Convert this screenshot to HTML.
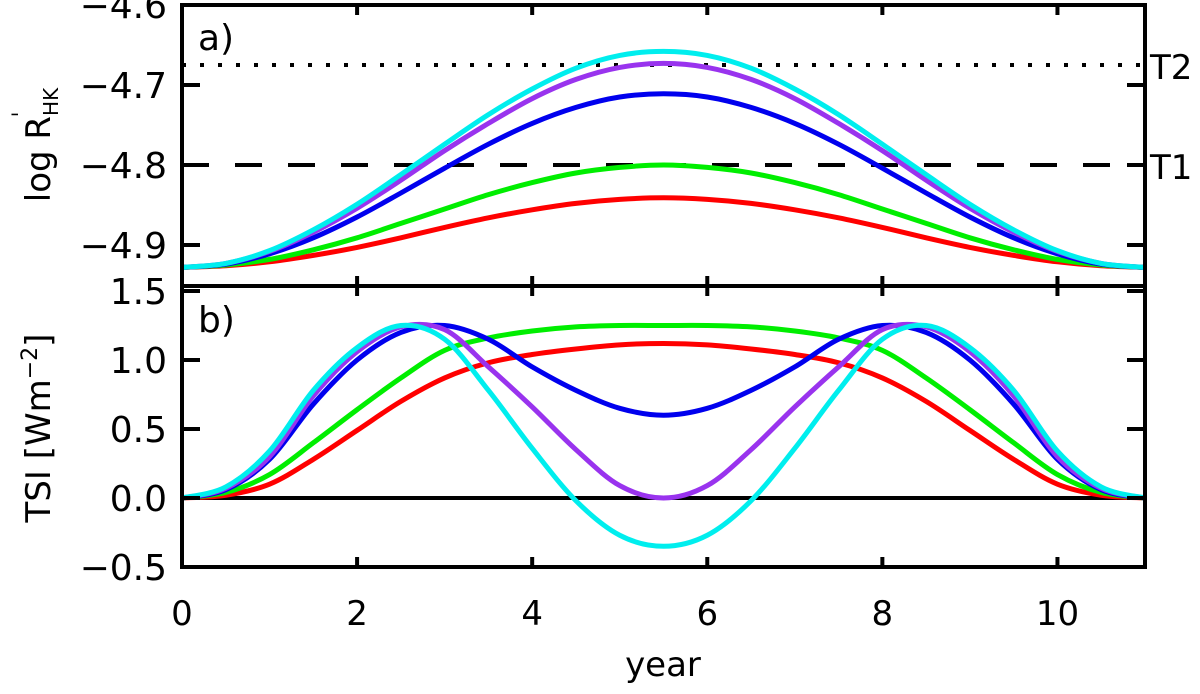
<!DOCTYPE html>
<html><head><meta charset="utf-8"><style>
body{margin:0;background:#fff}
svg text{font-family:"DejaVu Sans","Liberation Sans",sans-serif;fill:#000}
</style></head><body>
<svg id="chart" width="1200" height="689" viewBox="0 0 1200 689" xmlns="http://www.w3.org/2000/svg"></svg>
<script>
const years=[0,0.5,1,1.5,2,2.5,3,3.5,4,4.5,5,5.5,6,6.5,7,7.5,8,8.5,9,9.5,10,10.5,11];
const logRCyan=[-4.928,-4.923,-4.907,-4.881,-4.849,-4.812,-4.774,-4.737,-4.705,-4.679,-4.663,-4.658,-4.663,-4.679,-4.705,-4.737,-4.774,-4.812,-4.849,-4.881,-4.907,-4.923,-4.928];
const logRPurple=[-4.928,-4.923,-4.908,-4.884,-4.854,-4.819,-4.782,-4.748,-4.717,-4.693,-4.678,-4.673,-4.678,-4.693,-4.717,-4.748,-4.782,-4.819,-4.854,-4.884,-4.908,-4.923,-4.928];
const logRBlue=[-4.928,-4.924,-4.911,-4.891,-4.865,-4.835,-4.804,-4.774,-4.748,-4.728,-4.715,-4.711,-4.715,-4.728,-4.748,-4.774,-4.804,-4.835,-4.865,-4.891,-4.911,-4.924,-4.928];
const logRGreen=[-4.928,-4.925,-4.918,-4.906,-4.891,-4.873,-4.855,-4.837,-4.822,-4.810,-4.803,-4.800,-4.803,-4.810,-4.822,-4.837,-4.855,-4.873,-4.891,-4.906,-4.918,-4.925,-4.928];
const logRRed=[-4.928,-4.926,-4.921,-4.913,-4.903,-4.891,-4.878,-4.866,-4.856,-4.848,-4.843,-4.841,-4.843,-4.848,-4.856,-4.866,-4.878,-4.891,-4.903,-4.913,-4.921,-4.926,-4.928];
const tsiCyan=[0,0.08,0.34,0.78,1.09,1.25,1.15,0.78,0.36,-0.02,-0.27,-0.35,-0.27,-0.02,0.36,0.78,1.15,1.25,1.09,0.78,0.34,0.08,0];
const tsiPurple=[0,0.07,0.30,0.74,1.06,1.24,1.22,0.95,0.66,0.35,0.09,0,0.09,0.35,0.66,0.95,1.22,1.24,1.06,0.74,0.30,0.07,0];
const tsiBlue=[0,0.06,0.28,0.68,1.00,1.20,1.25,1.15,0.95,0.78,0.65,0.60,0.65,0.78,0.95,1.15,1.25,1.20,1.00,0.68,0.28,0.06,0];
const tsiGreen=[0,0.04,0.17,0.40,0.64,0.87,1.07,1.16,1.21,1.24,1.25,1.25,1.25,1.24,1.21,1.16,1.07,0.87,0.64,0.40,0.17,0.04,0];
const tsiRed=[0,0.02,0.10,0.28,0.49,0.70,0.87,0.98,1.04,1.08,1.11,1.12,1.11,1.08,1.04,0.98,0.87,0.70,0.49,0.28,0.10,0.02,0];
const xTicks=[0,2,4,6,8,10];
const aTicks=[-4.6,-4.7,-4.8,-4.9];
const aTickLabels=["\u22124.6","\u22124.7","\u22124.8","\u22124.9"];
const bTicks=[1.5,1.0,0.5,0.0,-0.5];
const bTickLabels=["1.5","1.0","0.5","0.0","\u22120.5"];
const thresholdT1=-4.8, thresholdT2=-4.675;

const NS="http://www.w3.org/2000/svg";
const svg=document.getElementById('chart');
const L=182,R=1145,aTop=5,aBot=286,bTop=286,bBot=567;
const xs=v=>L+(v-0)*(R-L)/11;
const ya=v=>aTop+(-4.6-v)*800;
const yb=v=>498-v*138;
function el(tag,attrs,txt){const e=document.createElementNS(NS,tag);for(const k in attrs)e.setAttribute(k,attrs[k]);if(txt!==undefined)e.textContent=txt;svg.appendChild(e);return e;}
function smooth(pts){let d=`M${pts[0][0]},${pts[0][1]}`;for(let i=0;i<pts.length-1;i++){const p0=pts[Math.max(0,i-1)],p1=pts[i],p2=pts[i+1],p3=pts[Math.min(pts.length-1,i+2)];const c1=[p1[0]+(p2[0]-p0[0])/6,p1[1]+(p2[1]-p0[1])/6],c2=[p2[0]-(p3[0]-p1[0])/6,p2[1]-(p3[1]-p1[1])/6];d+=`C${c1[0]},${c1[1]} ${c2[0]},${c2[1]} ${p2[0]},${p2[1]}`;}return d;}

let t2=el('line',{x1:L,x2:R,y1:ya(thresholdT2),y2:ya(thresholdT2),stroke:'#000','stroke-width':4,'stroke-dasharray':'4 14'});


let t1=el('line',{x1:L,x2:R,y1:ya(thresholdT1),y2:ya(thresholdT1),stroke:'#000','stroke-width':4,'stroke-dasharray':'27 26'});


let z=el('line',{x1:L,x2:R,y1:yb(0),y2:yb(0),stroke:'#000','stroke-width':4});



const seriesA=[[logRRed,'#ff0000','red'],[logRGreen,'#00ee00','green'],[logRBlue,'#0000ee','blue'],[logRPurple,'#9933ee','purple'],[logRCyan,'#00eeee','cyan']];
const seriesB=[[tsiRed,'#ff0000','red'],[tsiGreen,'#00ee00','green'],[tsiBlue,'#0000ee','blue'],[tsiPurple,'#9933ee','purple'],[tsiCyan,'#00eeee','cyan']];
seriesA.forEach(s=>{const p=el('path',{d:smooth(years.map((t,i)=>[xs(t),ya(s[0][i])])),fill:'none',stroke:s[1],'stroke-width':5});

});
seriesB.forEach(s=>{const p=el('path',{d:smooth(years.map((t,i)=>[xs(t),yb(s[0][i])])),fill:'none',stroke:s[1],'stroke-width':5});

});

let f1=el('rect',{x:L,y:aTop,width:R-L,height:aBot-aTop,fill:'none',stroke:'#000','stroke-width':4});


let f2=el('rect',{x:L,y:bTop,width:R-L,height:bBot-bTop,fill:'none',stroke:'#000','stroke-width':4});



xTicks.forEach(v=>{
 [[aTop,aTop+10],[aBot-10,aBot],[bTop,bTop+10],[bBot-10,bBot]].forEach(p=>{const t=el('line',{x1:xs(v),x2:xs(v),y1:p[0],y2:p[1],stroke:'#000','stroke-width':4});
 
 });
 const lb=el('text',{x:xs(v),y:625,'font-size':34,'text-anchor':'middle'},String(v));
 
 
});
aTicks.forEach((v,i)=>{
 [[L,L+18],[R-18,R]].forEach(p=>{const t=el('line',{x1:p[0],x2:p[1],y1:ya(v),y2:ya(v),stroke:'#000','stroke-width':4});
 
 });
 const lb=el('text',{x:167,y:ya(v)+13,'font-size':36,'text-anchor':'end'},aTickLabels[i]);
 
 
});
bTicks.forEach((v,i)=>{
 [[L,L+18],[R-18,R]].forEach(p=>{const t=el('line',{x1:p[0],x2:p[1],y1:yb(v),y2:yb(v),stroke:'#000','stroke-width':4});
 
 });
 const lb=el('text',{x:167,y:yb(v)+13,'font-size':36,'text-anchor':'end'},bTickLabels[i]);
 
 
});
let a=el('text',{x:198,y:50,'font-size':36},'a)');


let b=el('text',{x:198,y:332,'font-size':36},'b)');


let lt2=el('text',{x:1150,y:79,'font-size':34},'T2');


let lt1=el('text',{x:1150,y:179,'font-size':34},'T1');


let xl=el('text',{x:663,y:676,'font-size':34,'text-anchor':'middle'},'year');


let ylA=el('text',{transform:'translate(50,145) rotate(-90)','font-size':34,'text-anchor':'middle'});
ylA.innerHTML='log  R<tspan dy="8" font-size="20">HK</tspan><tspan dx="-30" dy="-28" font-size="24">\u02C8</tspan>';


let ylB=el('text',{transform:'translate(50,428) rotate(-90)','font-size':34,'text-anchor':'middle'});
ylB.innerHTML='TSI  [Wm<tspan dy="-13" font-size="22">\u22122</tspan><tspan dy="13">]</tspan>';


</script>
</body></html>
